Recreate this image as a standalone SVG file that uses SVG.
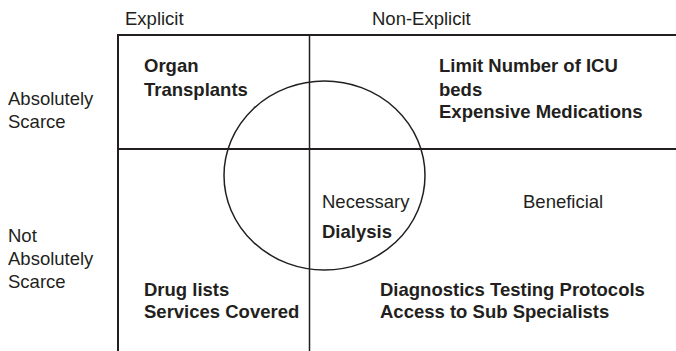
<svg xmlns="http://www.w3.org/2000/svg" width="676" height="351" viewBox="0 0 676 351">
<style>
text{font-family:"Liberation Sans",Arial,sans-serif;font-size:18.5px;fill:#231f20}
.b{font-weight:700}
.ln{stroke:#231f20;stroke-width:2;fill:none}
.thin{stroke:#231f20;stroke-width:1.5;fill:none}
</style>
<rect width="676" height="351" fill="#fff"/>
<g id="grid">
<line class="ln" x1="118" y1="35" x2="676" y2="35"/>
<line class="ln" x1="118" y1="34" x2="118" y2="351"/>
<line class="ln" x1="118" y1="149" x2="676" y2="149"/>
<line class="thin" x1="309.5" y1="35" x2="309.5" y2="351"/>
</g>
<g id="circle">
<ellipse class="thin" cx="324.5" cy="175.5" rx="100.5" ry="94.5"/>
</g>
<g id="col-labels">
<text x="125" y="25">Explicit</text>
<text x="372" y="25">Non-Explicit</text>
</g>
<g id="row-labels">
<text x="8" y="105">Absolutely</text>
<text x="8" y="128">Scarce</text>
<text x="8" y="242">Not</text>
<text x="8" y="265">Absolutely</text>
<text x="8" y="288">Scarce</text>
</g>
<g id="q-explicit-scarce">
<text class="b" x="144" y="72">Organ</text>
<text class="b" x="144" y="96">Transplants</text>
</g>
<g id="q-nonexplicit-scarce">
<text class="b" x="439" y="72">Limit Number of ICU</text>
<text class="b" x="439" y="96">beds</text>
<text class="b" x="439" y="118">Expensive Medications</text>
</g>
<g id="necessary">
<text x="322" y="208">Necessary</text>
<text class="b" x="322" y="238">Dialysis</text>
</g>
<g id="beneficial">
<text x="523" y="208">Beneficial</text>
</g>
<g id="q-explicit-notscarce">
<text class="b" x="144" y="296">Drug lists</text>
<text class="b" x="144" y="318">Services Covered</text>
</g>
<g id="q-nonexplicit-notscarce">
<text class="b" x="380" y="296">Diagnostics Testing Protocols</text>
<text class="b" x="380" y="318">Access to Sub Specialists</text>
</g>
</svg>
